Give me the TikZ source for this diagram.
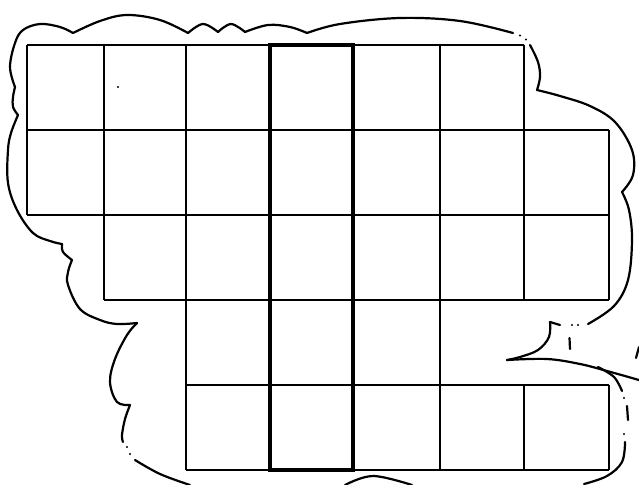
\documentclass[tikz,border=0pt]{standalone}
\begin{document}
\begin{tikzpicture}[x=1pt,y=-1pt,
  gridline/.style={line width=1.5pt},
  boldline/.style={line width=3.4pt},
  outline/.style={line width=2.2pt, line join=round, line cap=round},
  sm/.style={smooth, tension=0.6}]
\useasboundingbox (0,0) rectangle (639,484);
\clip (0,0) rectangle (639,484);
% ---- grid ----
\draw[gridline] (27,45) -- (524,45);
\draw[gridline] (27,130) -- (609,130);
\draw[gridline] (27,215) -- (609,215);
\draw[gridline] (104,300) -- (609,300);
\draw[gridline] (186,385) -- (609,385);
\draw[gridline] (186,470) -- (609,470);
\draw[gridline] (27,45) -- (27,215);
\draw[gridline] (104,45) -- (104,300);
\draw[gridline] (186,45) -- (186,470);
\draw[gridline] (440,45) -- (440,470);
\draw[gridline] (524,45) -- (524,300);
\draw[gridline] (524,385) -- (524,470);
\draw[gridline] (609,130) -- (609,300);
\draw[gridline] (609,385) -- (609,470);
\draw[boldline] (270,45) rectangle (353,470);
\fill (118,87) circle (1.2pt);
% ---- cloud outline ----
\draw[outline] plot[sm] coordinates {(18,115) (13,107) (13,97) (15,87)};
\draw[outline] plot[sm] coordinates {(15,87) (10,67) (15,43) (23,30) (40,24) (60,27) (73,33)};
\draw[outline] plot[sm] coordinates {(73,33) (100,21) (127,15) (160,20) (188,33)};
\draw[outline] plot[sm] coordinates {(188,33) (203,24) (218,32)};
\draw[outline] plot[sm] coordinates {(218,32) (231,24) (245,32)};
\draw[outline] plot[sm] coordinates {(245,32) (268,25) (290,27) (307,33)};
\draw[outline] plot[sm] coordinates {(307,33) (340,24) (400,18) (460,21) (513,33)};
\fill (520,35.5) circle (1.2pt) (526,39.5) circle (1.2pt);
\draw[outline] plot[sm] coordinates {(530,45) (538,62) (540,77) (537,90)};
\draw[outline] plot[sm] coordinates {(537,90) (560,96) (590,106) (615,122) (632,150) (633,175) (622,192)};
\draw[outline] plot[sm] coordinates {(622,192) (629,210) (632,240) (628,280) (614,306) (588,324)};
\fill (572,325) circle (1.2pt) (578,325) circle (1.2pt);
\draw[outline] (550,322) -- (560,325);
\draw[outline] plot[sm] coordinates {(550,322) (549,337) (538,350) (520,357) (507,360)};
\draw[outline] plot[sm] coordinates {(507,360) (547,359) (580,364) (607,371) (639,380)};
\draw[outline] plot[sm] coordinates {(598,367) (614,377) (622,391)};
\fill (624,398) circle (1.2pt);
\draw[outline] (627,406) -- (628,420);
\fill (624,434) circle (1.2pt);
\draw[outline] plot[sm] coordinates {(625,442) (622,462) (607,476) (584,484)};
\draw[outline] (569.5,338) -- (570,349);
\draw[outline] (636,358) -- (639,347);
\draw[outline] plot[sm] coordinates {(412,485) (373,476) (345,485)};
\draw[outline] plot[sm] coordinates {(190,485) (160,474) (135,460)};
\fill (130,454) circle (1.2pt) (127,447) circle (1.2pt);
\draw[outline] plot[sm] coordinates {(123,442) (122,435) (125,419) (130,405)};
\draw[outline] plot[sm] coordinates {(130,405) (117,402) (110,382) (115,359) (127,335) (137,323)};
\draw[outline] plot[sm] coordinates {(137,323) (117,324) (100,320) (80,309) (68,285) (68,272) (72,260)};
\draw[outline] plot[sm] coordinates {(72,260) (63,252) (62,244)};
\draw[outline] plot[sm] coordinates {(62,244) (50,241) (33,233) (17,210) (8,183) (8,150) (11,133) (18,115)};
\end{tikzpicture}
\end{document}
